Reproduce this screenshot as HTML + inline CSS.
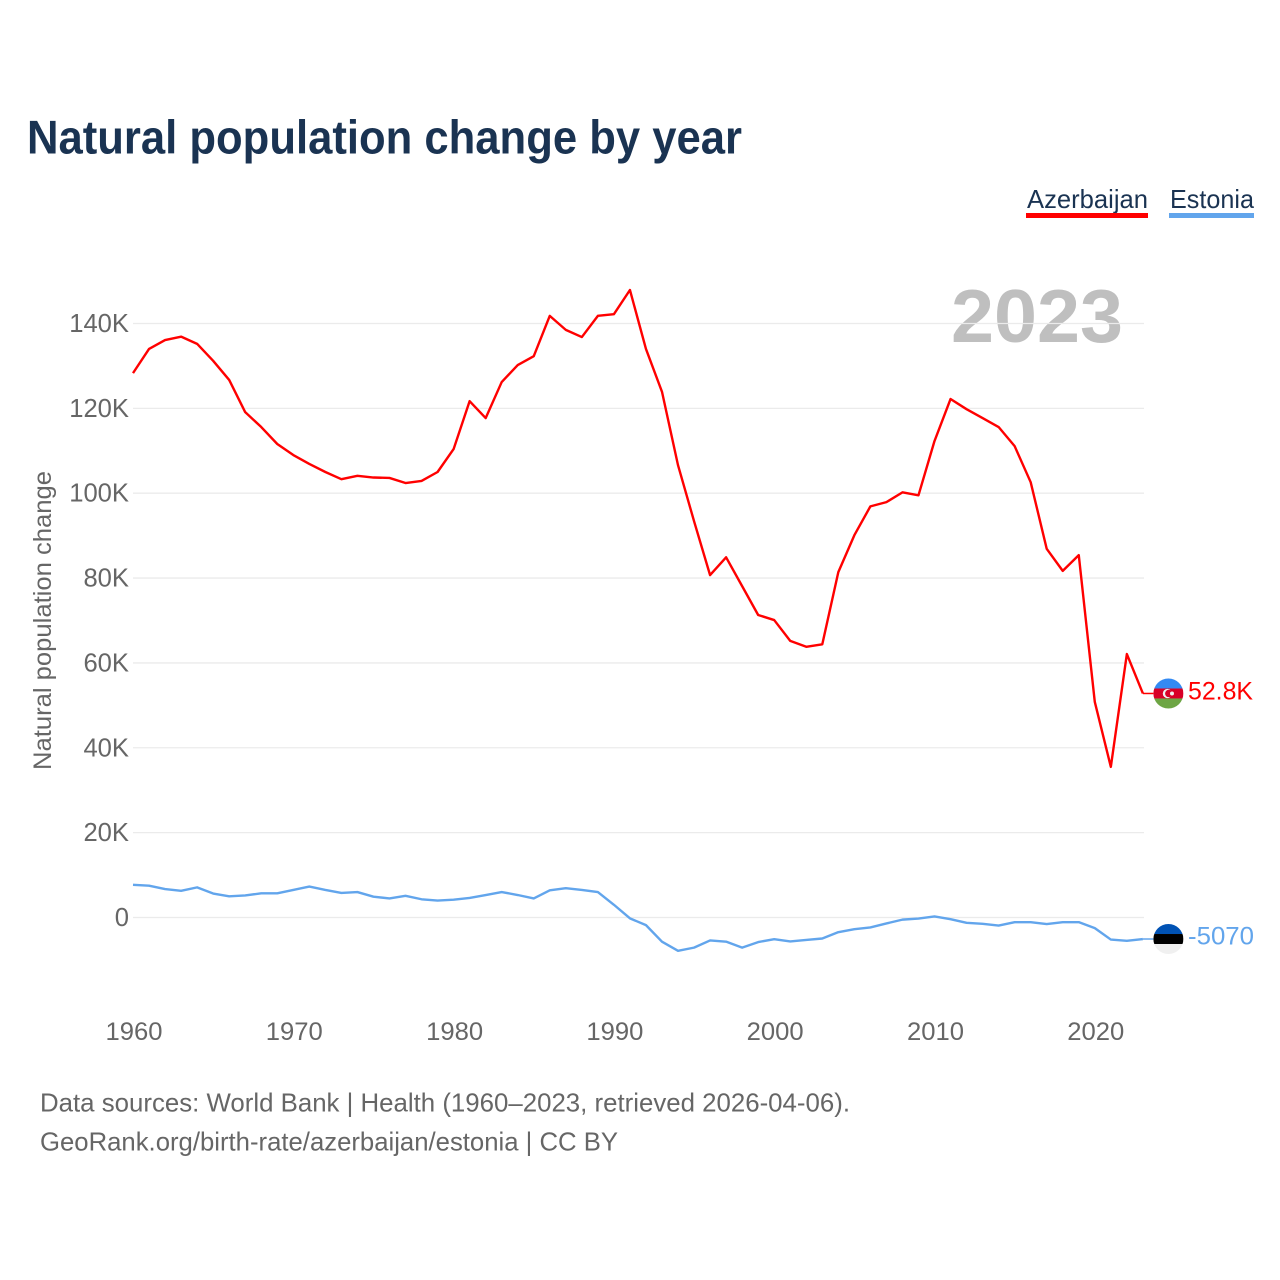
<!DOCTYPE html>
<html lang="en">
<head>
<meta charset="utf-8">
<title>Natural population change by year</title>
<style>
html,body{margin:0;padding:0;background:#fff;}
svg{display:block;font-family:"Liberation Sans",sans-serif;}
</style>
</head>
<body>
<svg id="chart" xmlns="http://www.w3.org/2000/svg" width="1280" height="1280" viewBox="0 0 1280 1280">
  <defs>
    <clipPath id="flag-clip-az"><circle id="clip-az" r="15"></circle></clipPath>
    <clipPath id="flag-clip-ee"><circle id="clip-ee" r="15"></circle></clipPath>
  </defs>
  <text x="27" y="153.5" font-size="47" font-weight="700" fill="#1a3352" textLength="715" lengthAdjust="spacingAndGlyphs">Natural population change by year</text>
  <g>
    <text x="1027" y="208" font-size="26" fill="#1a3352" textLength="121" lengthAdjust="spacingAndGlyphs">Azerbaijan</text>
    <rect x="1026" y="213" width="122" height="5" fill="#ff0000"></rect>
  </g>
  <g>
    <text x="1170" y="208" font-size="26" fill="#1a3352" textLength="84" lengthAdjust="spacingAndGlyphs">Estonia</text>
    <rect x="1169" y="213" width="85" height="5" fill="#62a5ec"></rect>
  </g>
  <text x="951" y="342" font-size="75" font-weight="700" fill="#bfbfbf" textLength="172" lengthAdjust="spacingAndGlyphs">2023</text>
  <g id="grid"></g>
  <g id="y-axis"></g>
  <g id="x-axis"></g>
  <text transform="translate(51,770) rotate(-90)" x="0" y="0" font-size="25" fill="#666666" textLength="299" lengthAdjust="spacingAndGlyphs">Natural population change</text>
  <g id="series"></g>
  <g id="flag-az" clip-path="url(#flag-clip-az)">
    <rect x="-15" y="-15" width="30" height="10" fill="#338af3"></rect>
    <rect x="-15" y="-5" width="30" height="10" fill="#d80027"></rect>
    <rect x="-15" y="5" width="30" height="10" fill="#6da544"></rect>
    <circle cx="-1" cy="0" r="4.6" fill="#f0f0f0"></circle>
    <circle cx="0.4" cy="0" r="3.7" fill="#d80027"></circle>
    <circle cx="3.6" cy="0" r="2" fill="#f0f0f0"></circle>
  </g>
  <g id="flag-ee" clip-path="url(#flag-clip-ee)">
    <rect x="-15" y="-15" width="30" height="10" fill="#0052b4"></rect>
    <rect x="-15" y="-5" width="30" height="10" fill="#000000"></rect>
    <rect x="-15" y="5" width="30" height="10" fill="#f0f0f0"></rect>
  </g>
  <g id="end-labels"></g>
  <text x="40" y="1111.5" font-size="26" fill="#666666" textLength="810" lengthAdjust="spacingAndGlyphs">Data sources: World Bank | Health (1960–2023, retrieved 2026-04-06).</text>
  <text x="40" y="1150.5" font-size="26" fill="#666666" textLength="578" lengthAdjust="spacingAndGlyphs">GeoRank.org/birth-rate/azerbaijan/estonia | CC BY</text>
</svg>
<script>
const years = [1960,1961,1962,1963,1964,1965,1966,1967,1968,1969,1970,1971,1972,1973,1974,1975,1976,1977,1978,1979,1980,1981,1982,1983,1984,1985,1986,1987,1988,1989,1990,1991,1992,1993,1994,1995,1996,1997,1998,1999,2000,2001,2002,2003,2004,2005,2006,2007,2008,2009,2010,2011,2012,2013,2014,2015,2016,2017,2018,2019,2020,2021,2022,2023];
const azerbaijan = [128300,134000,136100,136900,135200,131200,126700,119100,115600,111600,109000,106900,105000,103300,104100,103700,103600,102400,102900,105000,110400,121700,117700,126200,130200,132300,141800,138500,136800,141800,142200,147900,134000,123900,106600,93400,80700,84900,78100,71300,70100,65200,63800,64400,81400,90100,96900,97900,100200,99500,112300,122200,119800,117700,115600,111100,102600,86900,81700,85400,50800,35500,62100,52800];
const estonia = [7700,7500,6700,6300,7100,5650,5000,5200,5700,5700,6500,7300,6500,5800,6000,4900,4500,5100,4300,4000,4200,4600,5300,6000,5300,4500,6400,6900,6500,6000,3000,-200,-1800,-5700,-7850,-7100,-5400,-5700,-7100,-5800,-5100,-5650,-5300,-4950,-3450,-2750,-2350,-1400,-500,-250,250,-400,-1250,-1500,-1900,-1100,-1100,-1550,-1100,-1100,-2500,-5200,-5500,-5070];
const yTicks = [0,20000,40000,60000,80000,100000,120000,140000];
const yTickLabels = ["0","20K","40K","60K","80K","100K","120K","140K"];
const xTicks = [1960,1970,1980,1990,2000,2010,2020];
const azerbaijanEndLabel = "52.8K";
const estoniaEndLabel = "-5070";

const SVG_NS = "http://www.w3.org/2000/svg";
function xScale(year){ return 133 + (year - 1960) * 16.03; }
function yScale(value){ return 917.5 - value * 0.0042429; }
function make(tag, attrs, parent){
  const el = document.createElementNS(SVG_NS, tag);
  for (const k in attrs) el.setAttribute(k, attrs[k]);
  parent.appendChild(el);
  return el;
}
const grid = document.getElementById("grid");
const yAxis = document.getElementById("y-axis");
const xAxis = document.getElementById("x-axis");
const series = document.getElementById("series");
const endLabels = document.getElementById("end-labels");

yTicks.forEach(function(v, i){
  const line = make("line", {x1:133, x2:1144, y1:yScale(v), y2:yScale(v), stroke:"#ebebeb", "stroke-width":1.3}, grid);
  
  
  const t = make("text", {x:129, y:yScale(v)+8.5, "text-anchor":"end", "font-size":25.6, fill:"#666666"}, yAxis);
  t.textContent = yTickLabels[i];
  
  
});
xTicks.forEach(function(v){
  const t = make("text", {x:xScale(v)+1, y:1040, "text-anchor":"middle", "font-size":25, fill:"#666666", textLength:57, lengthAdjust:"spacingAndGlyphs"}, xAxis);
  t.textContent = String(v);
  
  
});
function points(values){
  return values.map(function(v, i){ return xScale(years[i]).toFixed(2) + "," + yScale(v).toFixed(2); }).join(" ");
}
const estoniaLine = make("polyline", {points:points(estonia), fill:"none", stroke:"#62a5ec", "stroke-width":2.4, "stroke-linejoin":"round"}, series);


const azerbaijanLine = make("polyline", {points:points(azerbaijan), fill:"none", stroke:"#ff0000", "stroke-width":2.4, "stroke-linejoin":"round"}, series);



const lastIndex = years.length - 1;
const lastX = xScale(years[lastIndex]);
const azY = yScale(azerbaijan[lastIndex]);
const eeY = yScale(estonia[lastIndex]);
const flagX = lastX + 25.5;

const azConnector = make("line", {x1:lastX, x2:flagX-15, y1:azY, y2:azY, stroke:"#ff0000", "stroke-width":1.5}, series);


const eeConnector = make("line", {x1:lastX, x2:flagX-15, y1:eeY, y2:eeY, stroke:"#62a5ec", "stroke-width":1.5}, series);



document.getElementById("clip-az").setAttribute("transform", "translate(" + flagX + "," + azY + ")");
document.getElementById("clip-ee").setAttribute("transform", "translate(" + flagX + "," + eeY + ")");
Array.from(document.getElementById("flag-az").children).forEach(function(c){ c.setAttribute("transform", "translate(" + flagX + "," + azY + ")"); });
Array.from(document.getElementById("flag-ee").children).forEach(function(c){ c.setAttribute("transform", "translate(" + flagX + "," + eeY + ")"); });

const azLabel = make("text", {x:1188, y:azY+6, "font-size":25, fill:"#ff0000", textLength:65, lengthAdjust:"spacingAndGlyphs"}, endLabels);
azLabel.textContent = azerbaijanEndLabel;


const eeLabel = make("text", {x:1188, y:eeY+5.5, "font-size":25, fill:"#62a5ec", textLength:66, lengthAdjust:"spacingAndGlyphs"}, endLabels);
eeLabel.textContent = estoniaEndLabel;


</script>
</body>
</html>
